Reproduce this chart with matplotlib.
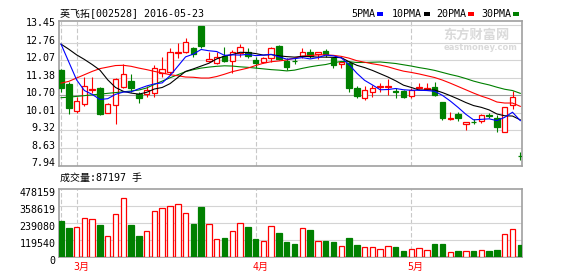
import matplotlib
matplotlib.use('Agg')
import numpy as np
import matplotlib.pyplot as plt
import matplotlib.transforms as mtransforms
from matplotlib.patches import Rectangle

plt.rcParams['font.family'] = ['DejaVu Sans Mono', 'Noto Sans CJK SC']
plt.rcParams['font.size'] = 7.2

# ---- data ----
title = '英飞拓[002528] 2016-05-23'
vol_text = '成交量:87197 手'

opens = [11.69, 11.14, 10.09, 10.34, 10.91, 10.97, 10.01, 10.30, 11.02, 11.24,
         10.76, 10.74, 10.77, 11.58, 11.62, 12.34, 12.40, 12.53, 13.41, 12.04,
         11.95, 12.23, 12.04, 12.34, 12.40, 12.08, 12.01, 12.17, 12.63, 12.04,
         12.05, 12.23, 12.38, 12.30, 12.44, 12.14, 11.91, 11.95, 10.99, 10.60,
         10.84, 11.01, 11.02, 10.87, 10.86, 10.67, 10.97, 10.93, 11.03, 10.42,
         9.76, 9.96, 9.55, 9.66, 9.69, 9.93, 9.79, 9.27, 10.31, 8.33]
highs = [11.72, 11.23, 10.64, 11.41, 11.41, 11.03, 10.40, 11.36, 11.91, 11.53,
         10.84, 11.07, 11.88, 12.21, 12.53, 12.73, 12.93, 12.60, 13.41, 12.38,
         12.38, 12.57, 12.47, 12.69, 12.53, 12.18, 12.21, 12.57, 12.67, 12.14,
         12.17, 12.53, 12.51, 12.40, 12.51, 12.21, 12.01, 12.01, 11.04, 11.04,
         11.10, 11.16, 11.33, 10.97, 10.90, 10.97, 11.16, 11.16, 11.23, 10.44,
         10.03, 10.03, 9.65, 9.75, 9.96, 10.01, 9.92, 10.25, 10.86, 8.48]
lows = [10.84, 9.95, 10.01, 10.29, 10.77, 9.92, 10.01, 9.58, 10.97, 10.81,
        10.40, 10.61, 10.61, 11.42, 11.49, 12.17, 12.36, 12.21, 12.53, 11.99,
        11.92, 12.01, 11.58, 12.21, 12.14, 11.75, 11.97, 12.01, 12.08, 11.69,
        11.91, 12.14, 12.14, 12.10, 12.21, 11.75, 11.75, 10.84, 10.60, 10.51,
        10.64, 10.81, 10.70, 10.60, 10.57, 10.57, 10.94, 10.91, 10.68, 9.72,
        9.72, 9.69, 9.33, 9.55, 9.59, 9.79, 9.27, 9.27, 10.16, 8.16]
closes = [10.99, 10.21, 10.47, 11.06, 10.94, 9.96, 10.37, 11.32, 11.52, 10.97,
          10.57, 10.91, 11.75, 11.71, 12.38, 12.38, 12.77, 12.30, 12.64, 12.12,
          12.21, 12.05, 12.38, 12.60, 12.25, 11.95, 12.17, 12.53, 12.10, 11.82,
          12.03, 12.38, 12.25, 12.38, 12.30, 11.88, 11.99, 10.97, 10.68, 10.89,
          10.97, 11.04, 11.04, 10.84, 10.64, 10.90, 11.03, 10.99, 10.70, 9.82,
          9.79, 9.79, 9.63, 9.63, 9.92, 9.89, 9.44, 10.25, 10.64, 8.30]
volumes = [256000, 205000, 210000, 273000, 266000, 226000, 146000, 301000, 414000, 226000,
           148000, 181000, 323000, 344000, 358000, 372000, 309000, 233000, 353000, 231000,
           125000, 134000, 181000, 238000, 212000, 127000, 111000, 217000, 170000, 106000,
           92000, 203000, 191000, 113000, 113000, 106000, 75000, 134000, 85000, 68000,
           68000, 57000, 75000, 71000, 42000, 57000, 61000, 47000, 92000, 92000,
           33000, 42000, 40000, 42000, 47000, 42000, 49000, 160000, 196000, 87197]

ma5 = [12.70, 12.00, 11.30, 10.88, 10.73, 10.53, 10.56, 10.73, 10.82, 10.83,
       10.95, 11.06, 11.14, 11.18, 11.46, 11.83, 12.20, 12.31, 12.49, 12.44,
       12.41, 12.26, 12.28, 12.27, 12.30, 12.25, 12.27, 12.30, 12.20, 12.11,
       12.13, 12.17, 12.12, 12.17, 12.27, 12.24, 12.16, 11.90, 11.56, 11.28,
       11.10, 10.91, 10.92, 10.96, 10.91, 10.89, 10.89, 10.88, 10.85, 10.69,
       10.47, 10.22, 9.95, 9.73, 9.75, 9.77, 9.70, 9.83, 10.03, 9.70]
ma10 = [12.70, 12.50, 12.28, 12.10, 11.90, 11.68, 11.30, 11.00, 10.85, 10.78,
        10.74, 10.81, 10.94, 11.00, 11.15, 11.39, 11.63, 11.73, 11.84, 11.95,
        12.12, 12.23, 12.29, 12.38, 12.37, 12.33, 12.27, 12.29, 12.24, 12.21,
        12.19, 12.22, 12.21, 12.19, 12.19, 12.18, 12.17, 12.01, 11.87, 11.78,
        11.67, 11.54, 11.41, 11.26, 11.09, 11.00, 10.90, 10.90, 10.90, 10.80,
        10.68, 10.55, 10.41, 10.29, 10.22, 10.12, 9.96, 9.89, 9.88, 9.73]
ma20 = [11.17, 11.24, 11.37, 11.50, 11.63, 11.74, 11.80, 11.86, 11.87, 11.83,
        11.76, 11.70, 11.63, 11.57, 11.50, 11.46, 11.41, 11.40, 11.37, 11.37,
        11.43, 11.52, 11.62, 11.69, 11.76, 11.86, 11.95, 12.01, 12.04, 12.08,
        12.15, 12.23, 12.25, 12.28, 12.28, 12.26, 12.22, 12.15, 12.05, 11.99,
        11.93, 11.88, 11.81, 11.72, 11.64, 11.59, 11.53, 11.46, 11.39, 11.29,
        11.17, 11.04, 10.91, 10.78, 10.66, 10.56, 10.43, 10.39, 10.39, 10.26]
ma30 = [10.60, 10.62, 10.65, 10.68, 10.71, 10.74, 10.77, 10.80, 10.83, 10.86,
        10.90, 10.98, 11.12, 11.25, 11.38, 11.50, 11.62, 11.70, 11.76, 11.80,
        11.83, 11.85, 11.84, 11.81, 11.79, 11.76, 11.73, 11.70, 11.68, 11.65,
        11.68, 11.75, 11.81, 11.86, 11.90, 11.97, 12.02, 12.01, 11.98, 11.98,
        11.99, 12.00, 11.97, 11.94, 11.89, 11.84, 11.78, 11.73, 11.67, 11.59,
        11.51, 11.44, 11.35, 11.25, 11.17, 11.10, 11.01, 10.93, 10.88, 10.77]

price_ticks = [13.45, 12.76, 12.07, 11.38, 10.70, 10.01, 9.32, 8.63, 7.94]
vol_ticks = [0, 119540, 239080, 358619, 478159]
month_idx = [2, 25, 45]
month_labels = ['3月', '4月', '5月']
sep_idx = [0, 2, 25, 45]
ma_names = ['5PMA', '10PMA', '20PMA', '30PMA']

RED = '#ff0000'
GREEN = '#008000'
ma_colors = ['#0000ff', '#000000', RED, GREEN]
GRID = '#d4d4d4'
BORDER = '#a0a0a0'

W, H = 578, 276
fig = plt.figure(figsize=(W / 100, H / 100), dpi=100)


def px_rect(l, t, r, b):
    return [l / W, 1 - b / H, (r - l) / W, (b - t) / H]


ax = fig.add_axes(px_rect(59, 21, 522, 165.5))
axv = fig.add_axes(px_rect(59, 189.3, 522, 257))

o = np.array(opens)
c = np.array(closes)
x = np.arange(len(c))
up = c >= o
face = np.where(up, 'white', GREEN)
edge = np.where(up, RED, GREEN)

# candles
ax.vlines(x, lows, highs, colors=edge, lw=0.8, zorder=2)
ax.bar(x, np.maximum(np.abs(c - o), 0.02), bottom=np.minimum(o, c), width=0.7,
       color=face, edgecolor=edge, linewidth=0.9, zorder=3)
for vals, col in zip([ma30, ma20, ma10, ma5], ma_colors[::-1]):
    ax.plot(x, vals, color=col, lw=0.8, zorder=4)

# volume
axv.bar(x, volumes, width=0.7, color=face, edgecolor=edge, linewidth=0.9, zorder=3)

for a in (ax, axv):
    a.set_xlim(-0.26, 59.22)
    a.set_xticks([])
    for s in a.spines.values():
        s.set_color(BORDER)
        s.set_linewidth(1.2)
    for i in sep_idx:
        a.axvline(i, color='#c8c8c8', lw=0.8, ls=(0, (4, 2)), zorder=1)
    a.tick_params(axis='y', length=0, pad=2.5)

ax.set_ylim(7.94, 13.607)
ax.set_yticks(price_ticks)
ax.set_yticklabels(['%.2f' % v for v in price_ticks])
for v in price_ticks[:-1]:
    ax.axhline(v, color=BORDER if v == 10.70 else GRID, lw=0.8, zorder=1)
up_shift = mtransforms.ScaledTranslation(0, 0.03, fig.dpi_scale_trans)
for lbl in ax.get_yticklabels():
    lbl.set_transform(lbl.get_transform() + up_shift)

axv.set_ylim(0, 478159)
axv.set_yticks(vol_ticks)
axv.set_yticklabels([str(v) for v in vol_ticks])
for v in vol_ticks[1:-1]:
    axv.axhline(v, color=GRID, lw=0.8, zorder=1)
down_shift = mtransforms.ScaledTranslation(0, -0.03, fig.dpi_scale_trans)
for lbl in axv.get_yticklabels():
    lbl.set_transform(lbl.get_transform() + down_shift)

# month labels
mtrans = mtransforms.blended_transform_factory(axv.transData, axv.transAxes)
for i, lab in zip(month_idx, month_labels):
    axv.text(i - 0.45, -0.145, lab, transform=mtrans, color=RED,
             ha='left', va='center', clip_on=False)

# texts
fig.text(60 / W, 1 - 13.5 / H, title, ha='left', va='center')
fig.text(60 / W, 1 - 177.5 / H, vol_text, ha='left', va='center')

# legend
leg_x = [351.3, 392, 436.3, 481.3]
for lx, name, col in zip(leg_x, ma_names, ma_colors):
    fig.text(lx / W, 1 - 14 / H, name, ha='left', va='center')
    width = len(name) * 6.0
    fig.add_artist(Rectangle(((lx + width + 2) / W, 1 - 15.5 / H), 6 / W, 3 / H,
                             transform=fig.transFigure, color=col, lw=0))

# watermark
ax.text(443 / W, 1 - 35 / H, '东方财富网', transform=fig.transFigure,
        family='Noto Sans CJK SC', fontweight='bold', fontsize=9.5,
        color='#dadada', ha='left', va='center', zorder=0.5)
ax.text(444 / W, 1 - 47.5 / H, 'eastmoney.com', transform=fig.transFigure,
        family='DejaVu Sans', fontweight='bold', fontsize=6.0,
        color='#dadada', ha='left', va='center', zorder=0.5)

fig.savefig('out.png', dpi=100, facecolor='white')
